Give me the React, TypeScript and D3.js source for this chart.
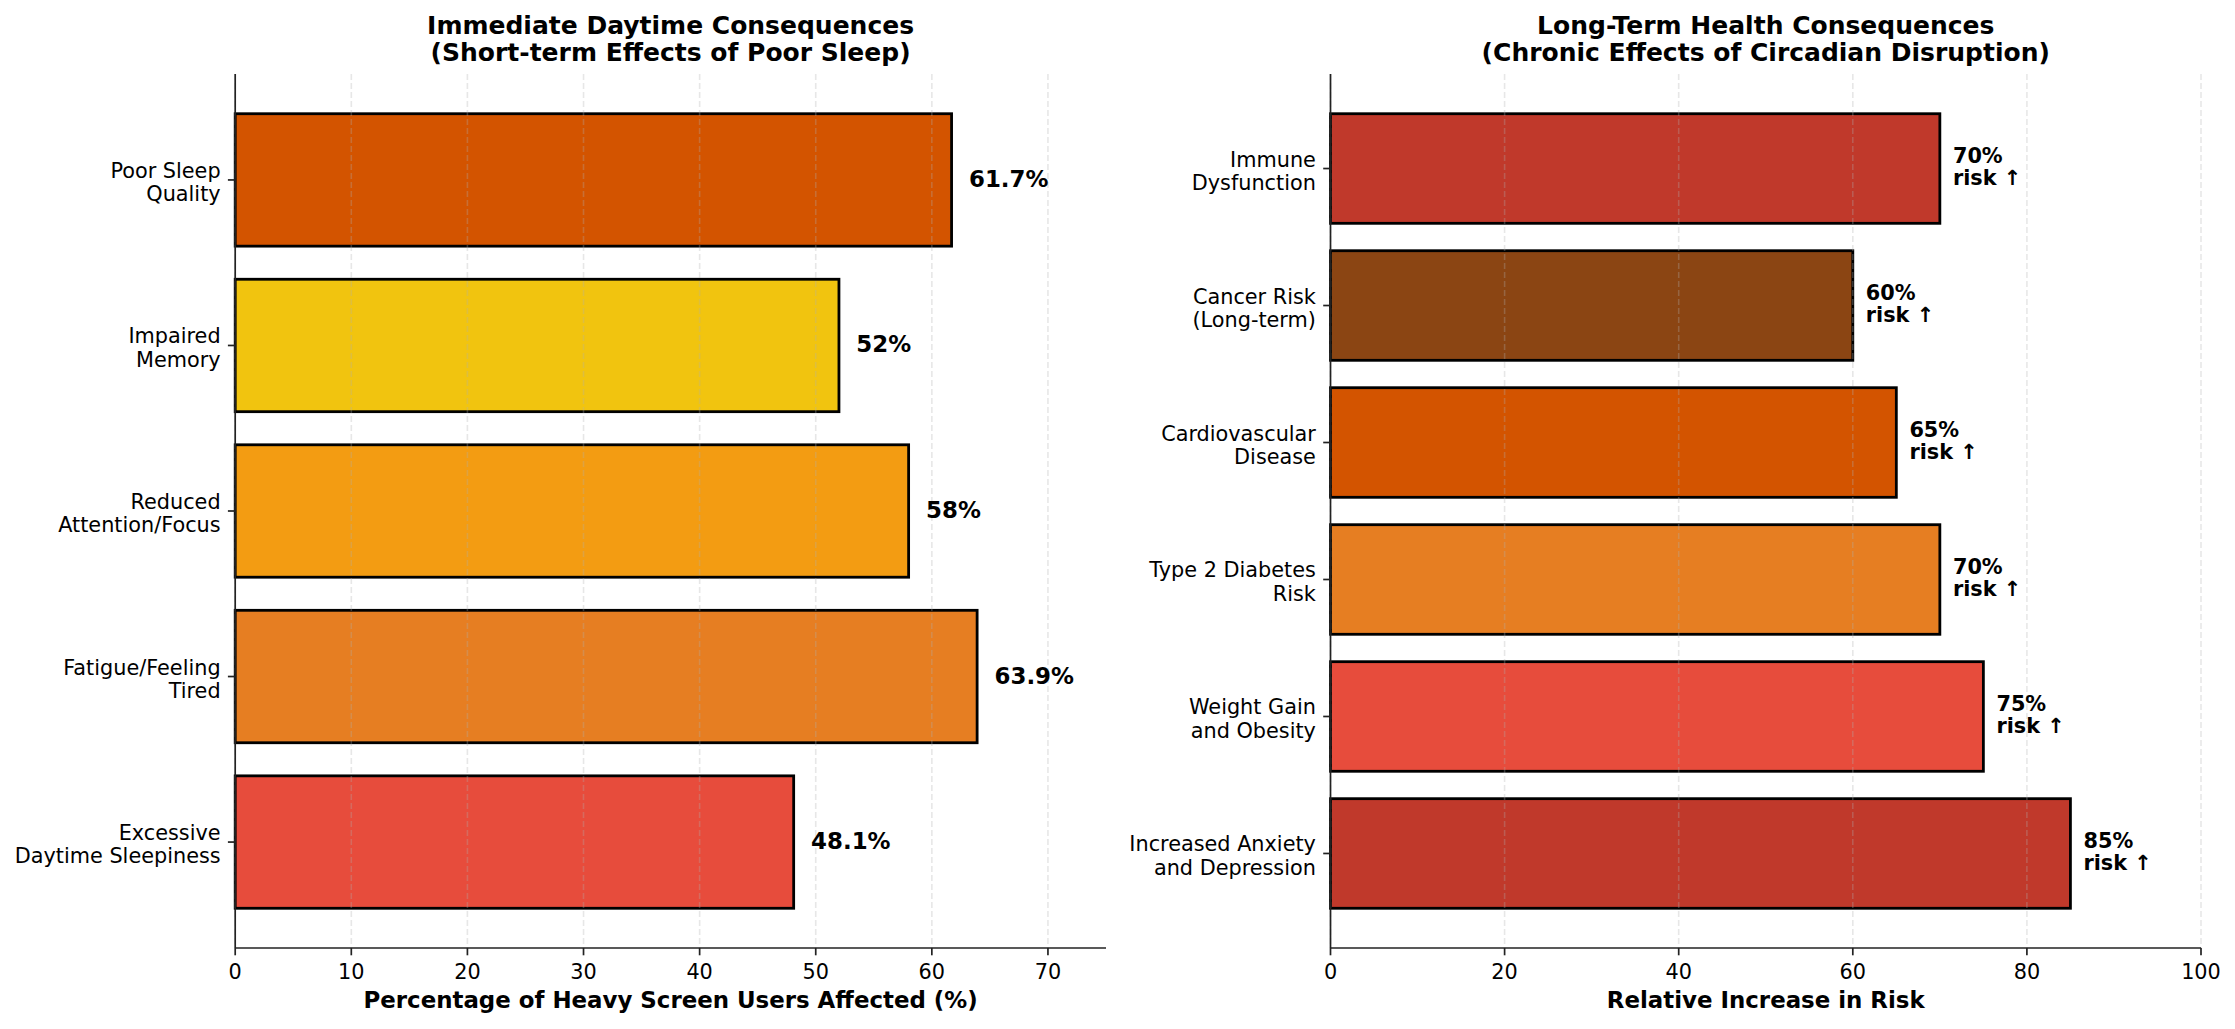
import { useEffect, useRef } from 'react';
import * as d3 from 'd3';

// Left panel: short-term effects (top to bottom)
const shortLabels = [
  ['Poor Sleep', 'Quality'],
  ['Impaired', 'Memory'],
  ['Reduced', 'Attention/Focus'],
  ['Fatigue/Feeling', 'Tired'],
  ['Excessive', 'Daytime Sleepiness'],
];
const shortValues = [61.7, 52, 58, 63.9, 48.1];
const shortColors = ['#d35400', '#f1c40f', '#f39c12', '#e67e22', '#e74c3c'];
const shortTicks = [0, 10, 20, 30, 40, 50, 60, 70];

// Right panel: long-term effects (top to bottom)
const longLabels = [
  ['Immune', 'Dysfunction'],
  ['Cancer Risk', '(Long-term)'],
  ['Cardiovascular', 'Disease'],
  ['Type 2 Diabetes', 'Risk'],
  ['Weight Gain', 'and Obesity'],
  ['Increased Anxiety', 'and Depression'],
];
const longValues = [70, 60, 65, 70, 75, 85];
const longColors = ['#c0392b', '#8b4513', '#d35400', '#e67e22', '#e74c3c', '#c0392b'];
const longTicks = [0, 20, 40, 60, 80, 100];

const FONT = '"DejaVu Sans", sans-serif';

type Panel = {
  left: number;
  right: number;
  title: string[];
  xLabel: string;
  xMax: number;
  ticks: number[];
  labels: string[][];
  values: number[];
  colors: string[];
  valueText: (v: number) => string[];
  valueSize: number;
};

const App = () => {
  const svgRef = useRef<SVGSVGElement>(null);

  useEffect(() => {
    if (!svgRef.current) return;
    const svg = d3.select(svgRef.current);
    svg.selectAll('*').remove();

    const width = 2235;
    const height = 1029;
    const top = 74;
    const bottom = 948;

    svg.attr('width', width).attr('height', height);
    svg.append('rect').attr('width', width).attr('height', height).attr('fill', '#fff');

    const panels: Panel[] = [
      {
        left: 235.2,
        right: 1106,
        title: ['Immediate Daytime Consequences', '(Short-term Effects of Poor Sleep)'],
        xLabel: 'Percentage of Heavy Screen Users Affected (%)',
        xMax: 75,
        ticks: shortTicks,
        labels: shortLabels,
        values: shortValues,
        colors: shortColors,
        valueText: (v) => [`${v}%`],
        valueSize: 22.9,
      },
      {
        left: 1330.5,
        right: 2201,
        title: ['Long-Term Health Consequences', '(Chronic Effects of Circadian Disruption)'],
        xLabel: 'Relative Increase in Risk',
        xMax: 100,
        ticks: longTicks,
        labels: longLabels,
        values: longValues,
        colors: longColors,
        valueText: (v) => [`${v}%`, 'risk ↑'],
        valueSize: 20.8,
      },
    ];

    panels.forEach((p) => {
      const n = p.values.length;
      const x = d3.scaleLinear().domain([0, p.xMax]).range([p.left, p.right]);
      const y = d3
        .scaleBand<number>()
        .domain(d3.range(n))
        .range([top, bottom])
        .paddingInner(0.2)
        .paddingOuter(0.05 * (n - 0.2));

      const g = svg.append('g').attr('font-family', FONT);

      // Bars
      g.selectAll('rect.bar')
        .data(p.values)
        .join('rect')
        .attr('class', 'bar')
        .attr('x', x(0))
        .attr('y', (_, i) => y(i)!)
        .attr('width', (d) => x(d) - x(0))
        .attr('height', y.bandwidth())
        .attr('fill', (_, i) => p.colors[i])
        .attr('stroke', '#000')
        .attr('stroke-width', 2.8);

      // Grid (drawn over bars, translucent)
      g.selectAll('line.grid')
        .data(p.ticks)
        .join('line')
        .attr('x1', (d) => x(d))
        .attr('x2', (d) => x(d))
        .attr('y1', top)
        .attr('y2', bottom)
        .attr('stroke', '#b0b0b0')
        .attr('stroke-opacity', 0.3)
        .attr('stroke-width', 1.6)
        .attr('stroke-dasharray', '6,3');

      // Spines
      g.append('line')
        .attr('x1', p.left).attr('x2', p.left)
        .attr('y1', top).attr('y2', bottom)
        .attr('stroke', '#222').attr('stroke-width', 1.7);
      g.append('line')
        .attr('x1', p.left).attr('x2', p.right)
        .attr('y1', bottom).attr('y2', bottom)
        .attr('stroke', '#222').attr('stroke-width', 1.7);

      // X ticks
      p.ticks.forEach((t) => {
        g.append('line')
          .attr('x1', x(t)).attr('x2', x(t))
          .attr('y1', bottom).attr('y2', bottom + 7.3)
          .attr('stroke', '#222').attr('stroke-width', 1.7);
        g.append('text')
          .attr('x', x(t))
          .attr('y', bottom + 31)
          .attr('text-anchor', 'middle')
          .attr('font-size', 20.8)
          .attr('fill', '#000')
          .text(t);
      });

      // Y ticks + labels
      p.labels.forEach((lines, i) => {
        const c = y(i)! + y.bandwidth() / 2;
        g.append('line')
          .attr('x1', p.left - 7.3).attr('x2', p.left)
          .attr('y1', c).attr('y2', c)
          .attr('stroke', '#222').attr('stroke-width', 1.7);
        const t = g.append('text')
          .attr('text-anchor', 'end')
          .attr('font-size', 20.8)
          .attr('fill', '#000');
        lines.forEach((line, j) => {
          t.append('tspan')
            .attr('x', p.left - 14.6)
            .attr('y', c - 2 + j * 23.3)
            .text(line);
        });
      });

      // Value labels
      p.values.forEach((v, i) => {
        const c = y(i)! + y.bandwidth() / 2;
        const lines = p.valueText(v);
        const t = g.append('text')
          .attr('font-size', p.valueSize)
          .attr('font-weight', 'bold')
          .attr('fill', '#000');
        const start = lines.length === 1 ? c + 7 : c - 5.7;
        lines.forEach((line, j) => {
          t.append('tspan')
            .attr('x', x(v + 1.5))
            .attr('y', start + j * 22.4)
            .text(line);
        });
      });

      // Title
      const cx = (p.left + p.right) / 2;
      const title = g.append('text')
        .attr('text-anchor', 'middle')
        .attr('font-size', 25)
        .attr('font-weight', 'bold')
        .attr('fill', '#000');
      p.title.forEach((line, j) => {
        title.append('tspan').attr('x', cx).attr('y', 34 + j * 27).text(line);
      });

      // X label
      g.append('text')
        .attr('x', cx)
        .attr('y', 1008)
        .attr('text-anchor', 'middle')
        .attr('font-size', 22.9)
        .attr('font-weight', 'bold')
        .attr('fill', '#000')
        .text(p.xLabel);
    });
  }, []);

  return (
    <div style={{ position: 'absolute', left: 0, top: 0 }}>
      <svg ref={svgRef} style={{ display: 'block' }} />
    </div>
  );
};

export default App;
